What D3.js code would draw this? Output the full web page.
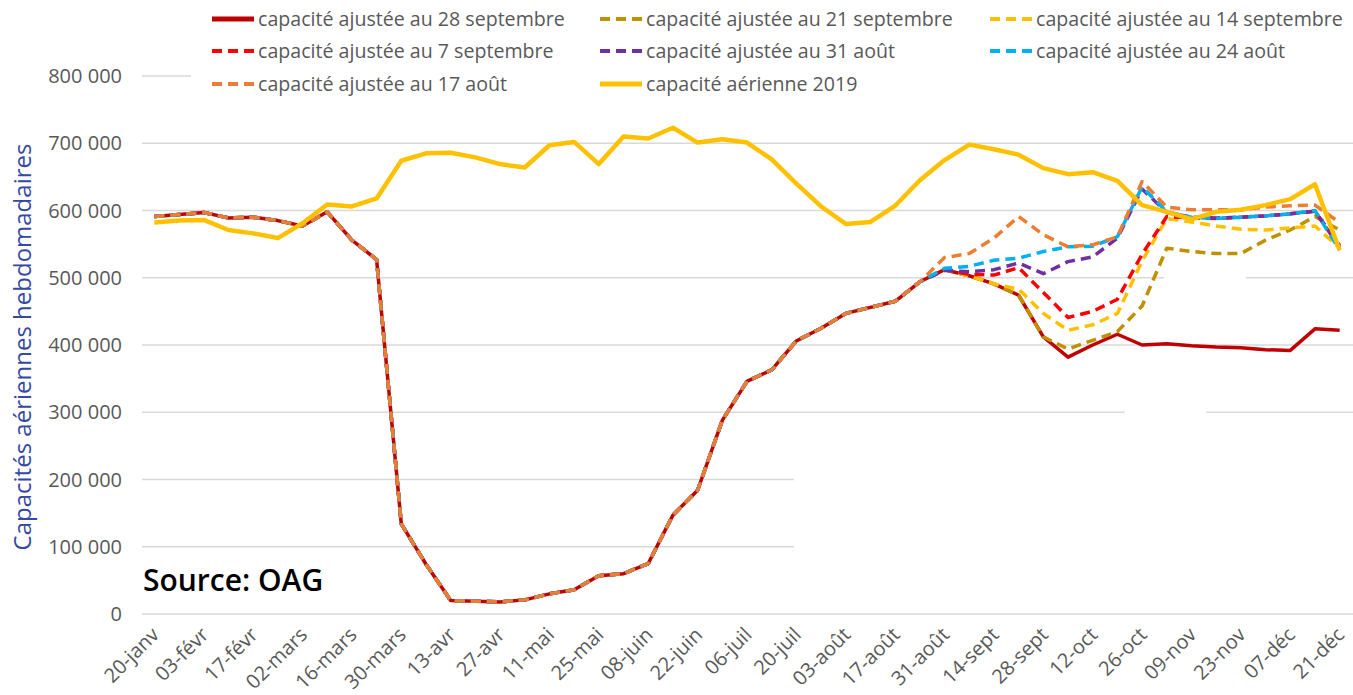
<!DOCTYPE html>
<html>
<head>
<meta charset="utf-8">
<script src="https://cdn.jsdelivr.net/npm/d3@7"></script>
<style>
    body { margin: 0; background: #fff; }
    svg { display: block; font-family: "Open Sans", sans-serif; }
</style>
</head>
<body>
<svg id="chart" width="1353" height="695"></svg>
<script>
/**
 * Data (weekly air capacity, in thousands of seats).
 */
const weeks = ['20-janv', '27-janv', '03-févr', '10-févr', '17-févr', '24-févr', '02-mars', '09-mars',
    '16-mars', '23-mars', '30-mars', '06-avr', '13-avr', '20-avr', '27-avr', '04-mai', '11-mai', '18-mai',
    '25-mai', '01-juin', '08-juin', '15-juin', '22-juin', '29-juin', '06-juil', '13-juil', '20-juil', '27-juil',
    '03-août', '10-août', '17-août', '24-août', '31-août', '07-sept', '14-sept', '21-sept', '28-sept', '05-oct',
    '12-oct', '19-oct', '26-oct', '02-nov', '09-nov', '16-nov', '23-nov', '30-nov', '07-déc', '14-déc', '21-déc'];

// Observed 2020 capacity, shared by every adjusted series (20-janv .. 24-août)
const actual2020 = [591, 594, 597, 589, 590, 585, 577, 598, 556, 527, 134, 74, 20, 19, 18, 21,
    30, 36, 57, 60, 75, 147, 184, 288, 346, 363, 406, 425, 447, 456, 465, 494];

// Adjusted schedules (31-août .. 21-déc)
const tail28sept = [512, 503, 491, 474, 412, 382, 400, 416, 400, 402, 399, 397, 396, 393, 392, 424, 422];
const tail21sept = [512, 503, 491, 474, 412, 394, 407, 420, 458, 544, 539, 536, 536, 556, 571, 591, 571];
const tail14sept = [512, 503, 491, 483, 447, 422, 430, 447, 525, 588, 583, 577, 572, 571, 574, 577, 544];
const tail7sept = [512, 505, 504, 515, 478, 441, 450, 468, 535, 591, 589, 588, 590, 592, 595, 599, 545];
const tail31aout = [511, 509, 512, 522, 506, 524, 531, 559, 632, 597, 590, 589, 590, 592, 595, 599, 548];
const tail24aout = [514, 517, 526, 529, 539, 546, 547, 561, 635, 598, 590, 588, 590, 592, 595, 600, 541];
const tail17aout = [530, 536, 559, 591, 564, 546, 549, 561, 643, 605, 601, 601, 601, 605, 607, 608, 582];

const capacity2019 = [582, 585, 586, 571, 566, 559, 581, 609, 606, 618, 674, 685, 686, 679, 669, 664,
    697, 702, 669, 710, 707, 723, 701, 706, 701, 676, 640, 606, 580, 583, 607, 645, 675, 698, 691, 683,
    663, 654, 657, 644, 608, 598, 587, 598, 601, 608, 617, 639, 541];

const seriesNames = ['capacité ajustée au 28 septembre', 'capacité ajustée au 21 septembre',
    'capacité ajustée au 14 septembre', 'capacité ajustée au 7 septembre', 'capacité ajustée au 31 août',
    'capacité ajustée au 24 août', 'capacité ajustée au 17 août', 'capacité aérienne 2019'];

const yTickValues = [0, 100, 200, 300, 400, 500, 600, 700, 800];

const series = [
    actual2020.concat(tail28sept),
    actual2020.concat(tail21sept),
    actual2020.concat(tail14sept),
    actual2020.concat(tail7sept),
    actual2020.concat(tail31aout),
    actual2020.concat(tail24aout),
    actual2020.concat(tail17aout),
    capacity2019
];

/**
 * Visual configs.
 */
const seriesStyles = [
    { color: '#C00000', width: 3.5, dash: null },
    { color: '#BF9000', width: 3.5, dash: '10,6' },
    { color: '#FFC000', width: 3.5, dash: '10,6' },
    { color: '#FF0000', width: 3.5, dash: '10,6' },
    { color: '#7030A0', width: 3.5, dash: '10,6' },
    { color: '#00B0F0', width: 3.5, dash: '10,6' },
    { color: '#ED7D31', width: 3.5, dash: '10,6' },
    { color: '#FFC000', width: 4.5, dash: null }
];

const plot = { left: 142, right: 1352, top: 76, bottom: 614 },
    gridRight = 1353,
    labelColor = '#595959';

// White patches of the original picture, in data space (category index, thousands)
const patches = [
    { i0: 25.9, i1: 49, v0: 60, v1: 240 },
    { i0: 39.3, i1: 42.6, v0: 285, v1: 315 },
    { i0: 40.9, i1: 44.2, v0: 490, v1: 510 }
];

/**
 * D3.
 */
const svg = d3.select('#chart');

const xScale = d3.scalePoint().domain(weeks).range([plot.left, plot.right]).padding(0.5),
    xIndex = d3.scaleLinear().domain([0, weeks.length - 1])
        .range([xScale(weeks[0]), xScale(weeks[weeks.length - 1])]),
    yScale = d3.scaleLinear().domain([0, 800]).range([plot.bottom, plot.top]),
    fmt = d3.formatLocale({ decimal: ',', thousands: '\u00a0', grouping: [3], currency: ['', '€'] }).format(',');

const line = d3.line()
    .x((d, i) => xScale(weeks[i]))
    .y(d => yScale(d));

// Gridlines
svg.append('g').attr('class', 'grid')
    .selectAll('line').data(yTickValues).join('line')
    .attr('x1', plot.left).attr('x2', gridRight)
    .attr('y1', d => yScale(d)).attr('y2', d => yScale(d))
    .attr('stroke', '#D9D9D9').attr('stroke-width', 1.5);

svg.append('g').attr('class', 'patches')
    .selectAll('rect').data(patches).join('rect')
    .attr('x', d => xIndex(d.i0)).attr('width', d => xIndex(d.i1) - xIndex(d.i0))
    .attr('y', d => yScale(d.v1)).attr('height', d => yScale(d.v0) - yScale(d.v1))
    .attr('fill', '#fff');

// Y tick labels
svg.append('g').attr('class', 'y-axis')
    .selectAll('text').data(yTickValues).join('text')
    .attr('x', 122).attr('y', d => yScale(d)).attr('dy', '0.35em')
    .attr('text-anchor', 'end').attr('font-size', 20).attr('fill', labelColor)
    .text(d => fmt(d * 1000));

// X tick labels, every other week
svg.append('g').attr('class', 'x-axis')
    .selectAll('text').data(weeks.filter((d, i) => i % 2 === 0)).join('text')
    .attr('transform', d => 'translate(' + (xScale(d) + 6) + ',636) rotate(-45)')
    .attr('text-anchor', 'end').attr('font-size', 20).attr('fill', labelColor)
    .text(d => d);

// Lines
svg.append('g').attr('class', 'lines')
    .selectAll('path').data(series).join('path')
    .attr('d', line)
    .attr('fill', 'none')
    .attr('stroke', (d, i) => seriesStyles[i].color)
    .attr('stroke-width', (d, i) => seriesStyles[i].width)
    .attr('stroke-dasharray', (d, i) => seriesStyles[i].dash)
    .attr('stroke-linejoin', 'round');

// Legend
svg.append('rect').attr('x', 191).attr('y', 0).attr('width', 1353 - 191).attr('height', 100).attr('fill', '#fff');

const legendCols = [212, 600, 990],
    legendRows = [19, 51, 84];

const legend = svg.append('g').attr('class', 'legend')
    .selectAll('g').data(seriesNames).join('g')
    .attr('transform', (d, i) => 'translate(' + legendCols[i % 3] + ',' + legendRows[Math.floor(i / 3)] + ')');

legend.append('line')
    .attr('x1', 0).attr('x2', 42).attr('y1', 0).attr('y2', 0)
    .attr('stroke', (d, i) => seriesStyles[i].color)
    .attr('stroke-width', (d, i) => seriesStyles[i].dash ? 4 : 5)
    .attr('stroke-dasharray', (d, i) => seriesStyles[i].dash);

legend.append('text')
    .attr('x', 46).attr('dy', '0.35em')
    .attr('font-size', 19.6).attr('fill', labelColor)
    .text(d => d);

// Source
svg.append('text')
    .attr('x', 143).attr('y', 591)
    .attr('font-size', 30).attr('font-weight', 600).attr('fill', '#000')
    .text('Source: OAG');

// Y title
svg.append('text')
    .attr('transform', 'translate(23,347) rotate(-90)')
    .attr('dy', '0.35em')
    .attr('text-anchor', 'middle').attr('font-size', 24).attr('fill', '#3448A4')
    .text('Capacités aériennes hebdomadaires');
</script>
</body>
</html>
